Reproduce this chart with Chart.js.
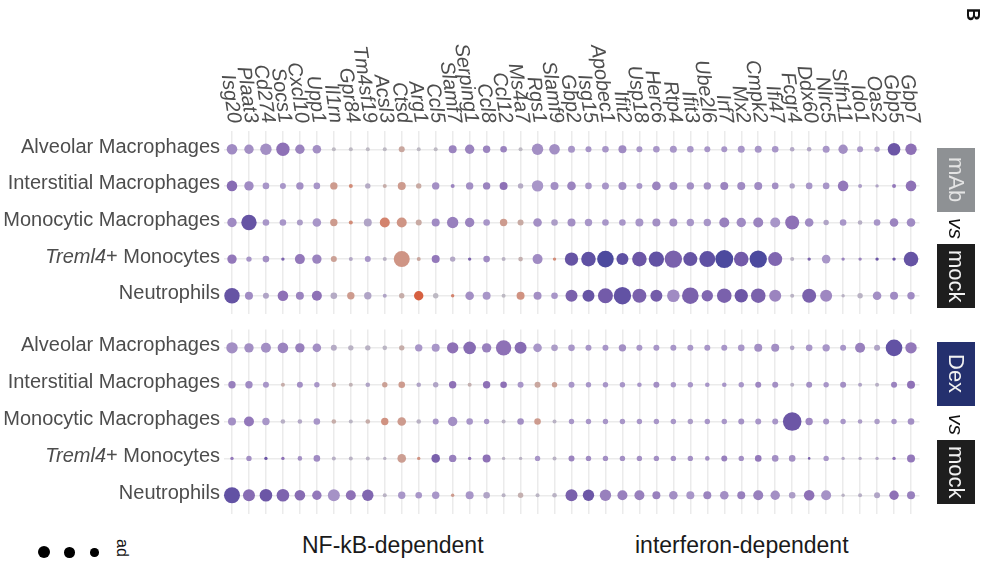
<!DOCTYPE html>
<html>
<head>
<meta charset="utf-8">
<script src="https://cdn.jsdelivr.net/npm/chart.js@4.4.0/dist/chart.umd.min.js"></script>
<style>
body { margin: 0; width: 991px; height: 561px; background: #fff; position: relative; overflow: hidden; font-family: "Liberation Sans", Arial, sans-serif; }
.panel { position: absolute; left: 0; width: 991px; }
.strip { position: absolute; left: 937px; width: 38px; writing-mode: vertical-rl; display: flex; align-items: center; justify-content: center; font-size: 22px; color: #f2f2f2; }
.vs { position: absolute; left: 937px; width: 38px; writing-mode: vertical-rl; text-align: center; font-size: 21px; font-style: italic; color: #111; line-height: 38px; }
.foot { position: absolute; top: 532px; font-size: 23px; color: #1a1a1a; }
.dot { position: absolute; background: #000; border-radius: 50%; }
</style>
</head>
<body>
<div class="panel" style="top:0;height:323px"><canvas id="mabChart"></canvas></div>
<div class="panel" style="top:318px;height:205px"><canvas id="dexChart"></canvas></div>

<div style="position:absolute;left:962px;top:8px;writing-mode:vertical-rl;font-weight:bold;font-size:18px;color:#111">B</div>

<div class="strip" style="top:148px;height:64px;background:#8e9194;color:#e4e4e4">mAb</div>
<div class="vs" style="top:214px;height:28px">vs</div>
<div class="strip" style="top:244px;height:64px;background:#1e1e1e">mock</div>
<div class="strip" style="top:342px;height:64px;background:#24306e">Dex</div>
<div class="vs" style="top:410px;height:28px">vs</div>
<div class="strip" style="top:440px;height:64px;background:#1e1e1e">mock</div>

<div class="foot" style="left:302px">NF-kB-dependent</div>
<div class="foot" style="left:635px">interferon-dependent</div>

<div class="dot" style="left:38px;top:546px;width:12px;height:12px"></div>
<div class="dot" style="left:64px;top:547px;width:10.5px;height:10.5px"></div>
<div class="dot" style="left:90px;top:548px;width:8.5px;height:8.5px"></div>
<div style="position:absolute;left:113px;top:539px;writing-mode:vertical-rl;font-size:16px;color:#111;line-height:18px">ad</div>

<script>
const genes = ['Isg20', 'Plaat3', 'Cd274', 'Socs1', 'Cxcl10', 'Upp1', 'Il1rn', 'Gpr84', 'Tm4sf19', 'Acsl3',
    'Ctsd', 'Arg1', 'Ccl5', 'Slamf7', 'Serping1', 'Ccl8', 'Ccl12', 'Ms4a7', 'Rgs1', 'Slamf9',
    'Gbp2', 'Isg15', 'Apobec1', 'Ifit2', 'Usp18', 'Herc6', 'Rtp4', 'Ifit3', 'Ube2l6', 'Irf7',
    'Mx2', 'Cmpk2', 'Ifi47', 'Fcgr4', 'Ddx60', 'Nlrc5', 'Slfn11', 'Ido1', 'Oas2', 'Gbp5', 'Gbp7'];

const cellTypes = ['Alveolar Macrophages', 'Interstitial Macrophages', 'Monocytic Macrophages', 'Treml4+ Monocytes', 'Neutrophils'];

// log fold change (colour), one row per cell type
const mabFC = [
    [1.3,1.2,1.2,2,1.5,1.2,0,0,0,0,-0.6,0,0,1.5,1.5,1.5,1.5,0,1.2,1.2,1,1,1,1.3,1,1,1,1,1,1,1,1,1,0.5,0.5,1,1.2,1,0.8,3,2],
    [2.2,1.3,1,1,1.2,1,-1,-1.5,0.4,-0.4,-1,-0.5,1.2,1.5,1.2,1.5,2,0.4,1,1.2,1.5,1,1,1.3,1,1.5,1.3,1.2,1.2,1.5,1.3,1.3,1.2,0.7,1,1,1.8,0.8,0.6,1.8,2],
    [1.3,3.2,1,1,0.8,1,-1,-1.5,0.6,-1.8,-1.2,-0.5,1.3,1.6,1.5,1,-1,-0.5,1.2,0.8,1.2,1,1,1,1,1.2,1.2,1,1,1.6,1.3,1.5,1,2,1.3,0.6,1,0.3,1,1.5,1.3],
    [1.8,1,1.2,2.5,1.8,1.5,-0.8,0.5,1,0.2,-1.2,-0.6,1.8,0.5,2.5,1.3,0.2,-0.3,1.3,-1.5,3.2,3.4,4,3.4,3,3.3,2.6,3.2,3.4,4,2.8,4,2.4,0.2,2.5,1,1.5,1.5,3,3,3.2],
    [3.2,1.3,0.6,2,1.5,2,0.4,-1,0.6,0.6,-0.4,-3,0,-1.8,1.2,1,0,-1.3,1.2,1,2.6,3.2,2.8,3.3,2.6,2.8,1.3,2.6,2.4,2.6,3,2.6,1.5,0.2,2.6,1.4,0.2,0.2,1.2,1.3,1.3]
];
const dexFC = [
    [1.2,1.2,1.2,1.5,1.6,1.2,0.4,0.2,0.2,0.1,-0.4,1,1,2,2.2,1.6,2,2.2,1,0.8,1,1,1,1.2,1,1,1,1,1,1,1,1.2,1.2,0.6,1,1,1,1.6,0.6,3.3,1.8],
    [1.6,1.3,1,-0.4,1.2,1,-0.4,-0.2,0.6,-0.8,-1,0.6,0.6,2,-0.3,2,2,1,-0.6,-0.8,1,1,1,1,1,1.2,1,1,1,1,1,1.4,1.2,0.3,1.2,1,1.2,0.6,0.3,1.5,2],
    [1.2,1.8,1,0.3,0.5,1,-0.4,0.1,-0.4,-1.3,-1,0.2,1,1.2,1,1,0.2,1.2,-1,0.2,1,1,1,1,1,1,1,0.8,1,1,1.1,1,1,3,1.4,1,1,0.8,0.8,1,1.2],
    [1.8,1.2,3,2,1.2,1.3,0.3,0.2,0.2,0.2,-0.9,-1.3,2.6,1.6,2,2,0.2,0.2,1,0.2,1.5,1.3,1.2,1.2,1.2,1.2,1.2,1.2,1.2,1.6,1.2,1.8,1.2,1.2,2.6,1,0.5,0.5,0.5,2,1.8],
    [3.3,2.2,3,2.5,2.2,1.8,1.1,2,2.4,0.2,1,1,1,-1,1,0.6,0.2,-0.3,0.1,0.2,2.6,3,1.6,1.6,1.6,1.6,1.2,1,1.5,1.2,1.6,1.6,1.2,0.8,2,1.1,0.2,0.3,0.6,2,1.6]
];

// -log10 adjusted p (dot size)
const mabSig = [
    [4.3,3.7,4.7,5.7,3.7,3.3,1,1,1,1,2,1,1,3,3.7,2.7,2.3,1,4.7,4.3,2.5,2,2.3,3,2,2.3,2.5,2.3,2,2,2.5,2.5,2.3,1.3,1.3,2.5,3.7,2,1.7,5.3,4.7],
    [4.3,3.7,2.3,2,2.7,2.3,2.7,1,1.7,1,3,1.7,2.7,1,2.7,2.7,3,1.7,4.7,3,3.3,2.3,2.5,3,2,3.3,3,2.7,2.7,3,3,3,2.3,1.7,2.3,2.3,4.3,1,0.7,1,4.3],
    [3.7,6.7,2.3,2.3,2,3.3,2.7,1,3,4,4,2,3,4.7,3.7,2.3,2.7,2,3.3,2.3,3,2.7,2.3,2.3,3,3,3,2.7,2.7,4,3.7,4,4,6,3.3,1.7,2.3,1.3,2.3,3.3,3.3],
    [3.7,1.7,2.3,0.7,4,3.7,2,1,2,1,7,1,3,1.7,0.7,2.3,1,1.3,4,0.7,5.7,6.3,7.3,5,6.3,6.7,7.7,6,7,8,6.3,7.7,6,1,0.7,3.3,0.7,0.7,0.7,0.7,6.3],
    [6.7,3,2,4.3,3,4,2.3,2.7,2.7,1,1.7,3.7,1.7,0.7,3.3,3,1,3,3,2.3,5,5,6.5,7.7,6,5,5.3,7.3,4.7,6.3,5.7,6.3,5,1,6,5,0.7,1.7,3.3,3,2.7]
];
const dexSig = [
    [4.7,3.7,4,4.3,3.7,3.3,2,1.7,1.7,1.3,1.7,2.7,3,4.7,5.3,3.7,6.7,5,3.3,2.3,2.3,2,2,2.7,2,2,2,2,2,2,2.3,3,3,1.3,2.3,2.7,2,4,2,7.3,4.7],
    [2.7,2.7,2,1,2,1.7,1.3,1,1.3,1.7,2.3,1.3,1.7,2.7,1,2.7,2.3,2,2,1.7,2,1.7,1.7,1.7,1.3,2,1.7,1.7,1.3,1.3,1.7,2,2,1,2,1.7,2,1,1,2,3],
    [3,4,2.7,1.3,1.3,2.3,1.3,1,1.3,2.7,3.3,1.3,2,3.7,2.3,1.7,1,2.3,2.3,1,1.7,1.7,1.7,1.7,1.7,1.7,1.7,1.7,1.7,1.7,2,2,2,8.3,2.7,2,1.7,1.3,1.7,1.7,2.3],
    [0.7,1.7,0.7,0.7,1.3,2.3,1,1,1,0.7,3.3,0.7,3.3,2.7,0.7,3,0.7,0.7,1.7,1,2,1.7,1.7,1.7,1.7,1.7,1.7,1.7,1.3,2,1.7,2.3,2.3,2.3,0.3,1.7,0.7,0.7,0.7,0.7,3],
    [7,5,5.3,5.3,4.3,3.7,5,4,4.7,1,2.7,2.3,2.7,0.7,3,2.3,1,1.7,1,1.3,5,4.7,4.7,4,4,3,3.3,3,3,3.3,3,4,3.7,2.3,4.3,4,0.7,1,2,3.7,3]
];

// diverging palette: orange (down) -> grey -> purple -> dark blue (up)
const stops = [
    [-3, [214, 96, 64]],
    [-1.5, [210, 140, 120]],
    [-0.5, [200, 170, 163]],
    [0, [189, 185, 195]],
    [1, [168, 150, 200]],
    [2, [142, 113, 182]],
    [3, [108, 86, 166]],
    [4, [76, 74, 158]]
];

function fcColor(v) {
    if (v <= stops[0][0]) return 'rgb(' + stops[0][1].join(',') + ')';
    for (let i = 1; i < stops.length; i++) {
        if (v <= stops[i][0]) {
            const [a, ca] = stops[i - 1];
            const [b, cb] = stops[i];
            const t = (v - a) / (b - a);
            const c = ca.map((x, k) => Math.round(x + (cb[k] - x) * t));
            return 'rgb(' + c.join(',') + ')';
        }
    }
    return 'rgb(' + stops[stops.length - 1][1].join(',') + ')';
}

const labelPlugin = {
    id: 'dotLabels',
    afterDraw(chart, args, opts) {
        const ctx = chart.ctx;
        const xs = chart.scales.x;
        const ys = chart.scales.y;
        ctx.save();
        ctx.fillStyle = '#4d4d4d';
        ctx.textBaseline = 'middle';
        // row names
        const right = 220;
        cellTypes.forEach((name, i) => {
            const py = ys.getPixelForValue(i) - 2;
            ctx.textAlign = 'right';
            if (name.startsWith('Treml4')) {
                const rest = name.slice(6);
                ctx.font = '20px "Liberation Sans"';
                const w = ctx.measureText(rest).width;
                ctx.fillText(rest, right, py);
                ctx.font = 'italic 20px "Liberation Sans"';
                ctx.fillText('Treml4', right - w, py);
            } else {
                ctx.font = '20px "Liberation Sans"';
                ctx.fillText(name, right, py);
            }
        });
        // gene names along the top
        if (opts.showGenes) {
            ctx.font = 'italic 20px "Liberation Sans"';
            ctx.textAlign = 'right';
            genes.forEach((g, j) => {
                const px = xs.getPixelForValue(j);
                ctx.save();
                ctx.translate(px + 2, 123);
                ctx.rotate(82 * Math.PI / 180);
                ctx.fillText(g, 0, 0);
                ctx.restore();
            });
        }
        ctx.restore();
    }
};

function makeChart(id, fc, sig, showGenes, pad) {
    const points = [];
    const colors = [];
    cellTypes.forEach((ct, i) => {
        genes.forEach((g, j) => {
            points.push({ x: g, y: ct, r: 1 + sig[i][j] });
            colors.push(fcColor(fc[i][j]));
        });
    });
    const grid = { color: '#ebebeb', lineWidth: 1.5, drawTicks: false };
    return new Chart(document.getElementById(id), {
        type: 'bubble',
        data: {
            datasets: [{
                data: points,
                backgroundColor: colors,
                borderWidth: 0,
                clip: false
            }]
        },
        options: {
            responsive: true,
            maintainAspectRatio: false,
            animation: false,
            events: [],
            layout: { padding: pad },
            plugins: {
                legend: { display: false },
                tooltip: { enabled: false },
                dotLabels: { showGenes: showGenes }
            },
            scales: {
                x: { type: 'category', labels: genes, offset: true, grid: grid, ticks: { display: false }, border: { display: false } },
                y: { type: 'category', labels: cellTypes, offset: true, grid: grid, ticks: { display: false }, border: { display: false } }
            }
        },
        plugins: [labelPlugin]
    });
}

makeChart('mabChart', mabFC, mabSig, true, { left: 223.5, right: 71.5, top: 131, bottom: 3.4 });
makeChart('dexChart', dexFC, dexSig, false, { left: 223.5, right: 71.5, top: 11.4, bottom: 5.4 });
</script>
</body>
</html>
